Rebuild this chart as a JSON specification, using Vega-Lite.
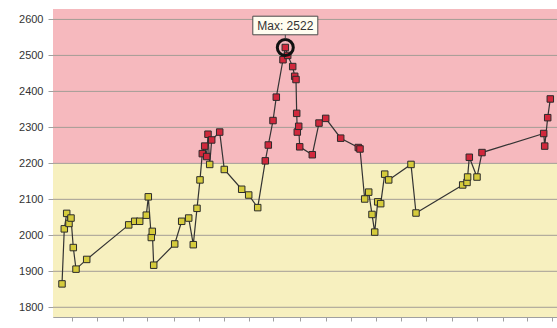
{
  "$schema": "https://vega.github.io/schema/vega-lite/v6.json",
  "width": 510,
  "height": 308,
  "autosize": {"type": "none"},
  "padding": {"left": 53, "top": 9, "right": 0, "bottom": 11},
  "background": "white",
  "config": {
    "view": {"stroke": null},
    "font": "Liberation Sans",
    "axis": {"grid": false, "title": null, "domainColor": "#a0a0a0", "tickColor": "#a0a0a0", "labelColor": "#333333", "labelFontSize": 11, "zindex": 1},
    "axisY": {"labelOverlap": false, "labelBound": false, "format": "d", "tickSize": 5, "labelPadding": 5, "tickCount": 9}
  },
  "datasets": {
    "series": [
      {"t": 62.0, "v": 1865}, {"t": 64.3, "v": 2018}, {"t": 66.7, "v": 2061}, {"t": 69.0, "v": 2033},
      {"t": 71.0, "v": 2048}, {"t": 73.3, "v": 1966}, {"t": 76.0, "v": 1906}, {"t": 86.7, "v": 1933},
      {"t": 128.7, "v": 2029}, {"t": 134.7, "v": 2039}, {"t": 139.7, "v": 2039}, {"t": 146.3, "v": 2056},
      {"t": 148.3, "v": 2107}, {"t": 151.3, "v": 1994}, {"t": 152.3, "v": 2011}, {"t": 153.7, "v": 1917},
      {"t": 174.7, "v": 1976}, {"t": 181.7, "v": 2039}, {"t": 188.7, "v": 2048}, {"t": 193.3, "v": 1974},
      {"t": 197.0, "v": 2075}, {"t": 200.0, "v": 2154}, {"t": 202.3, "v": 2227}, {"t": 204.7, "v": 2248},
      {"t": 206.7, "v": 2219}, {"t": 208.0, "v": 2281}, {"t": 209.7, "v": 2197}, {"t": 211.7, "v": 2265},
      {"t": 219.7, "v": 2287}, {"t": 224.3, "v": 2183}, {"t": 241.7, "v": 2128}, {"t": 248.7, "v": 2112},
      {"t": 257.7, "v": 2077}, {"t": 265.3, "v": 2207}, {"t": 268.3, "v": 2251}, {"t": 273.0, "v": 2319},
      {"t": 276.3, "v": 2384}, {"t": 283.0, "v": 2488}, {"t": 285.3, "v": 2522}, {"t": 287.7, "v": 2500},
      {"t": 292.7, "v": 2469}, {"t": 294.7, "v": 2442}, {"t": 296.0, "v": 2433}, {"t": 296.7, "v": 2339},
      {"t": 297.3, "v": 2287}, {"t": 298.7, "v": 2303}, {"t": 299.7, "v": 2246}, {"t": 312.3, "v": 2224},
      {"t": 319.0, "v": 2312}, {"t": 325.7, "v": 2325}, {"t": 340.7, "v": 2270}, {"t": 358.3, "v": 2244},
      {"t": 360.0, "v": 2240}, {"t": 364.7, "v": 2101}, {"t": 368.7, "v": 2120}, {"t": 372.0, "v": 2058},
      {"t": 374.7, "v": 2009}, {"t": 377.7, "v": 2093}, {"t": 380.7, "v": 2088}, {"t": 384.7, "v": 2170},
      {"t": 388.7, "v": 2154}, {"t": 411.0, "v": 2197}, {"t": 416.0, "v": 2062}, {"t": 462.7, "v": 2140},
      {"t": 467.0, "v": 2147}, {"t": 467.6, "v": 2162}, {"t": 469.3, "v": 2217}, {"t": 477.0, "v": 2162},
      {"t": 482.0, "v": 2230}, {"t": 543.7, "v": 2283}, {"t": 544.7, "v": 2248}, {"t": 547.7, "v": 2327},
      {"t": 550.3, "v": 2379}
    ],
    "bands": [
      {"lo": 1773, "hi": 2200, "zone": "below"},
      {"lo": 2200, "hi": 2629, "zone": "above"}
    ],
    "grid": [{"v": 1800}, {"v": 1900}, {"v": 2000}, {"v": 2100}, {"v": 2200}, {"v": 2300}, {"v": 2400}, {"v": 2500}, {"v": 2600}],
    "peak": [{"t": 285.3, "v": 2522, "label": "Max: 2522"}]
  },
  "resolve": {"scale": {"color": "independent"}, "axis": {"x": "independent"}},
  "layer": [
    {
      "data": {"name": "bands"},
      "mark": {"type": "rect", "opacity": 1},
      "encoding": {
        "y": {"field": "lo", "type": "quantitative", "scale": {"domain": [1773, 2629], "nice": false, "zero": false},
              "axis": {"values": [1800, 1900, 2000, 2100, 2200, 2300, 2400, 2500, 2600], "labelOverlap": false}},
        "y2": {"field": "hi"},
        "color": {"field": "zone", "type": "nominal", "scale": {"domain": ["below", "above"], "range": ["#f7f0bf", "#f6b9be"]}, "legend": null}
      }
    },
    {
      "data": {"name": "grid"},
      "mark": {"type": "rule", "color": "#a39d96", "strokeWidth": 1},
      "encoding": {"y": {"field": "v", "type": "quantitative", "axis": {"values": [1800, 1900, 2000, 2100, 2200, 2300, 2400, 2500, 2600], "labelOverlap": false}}}
    },
    {
      "data": {"name": "series"},
      "mark": {"type": "line", "color": "#333333", "strokeWidth": 1.2},
      "encoding": {
        "x": {"field": "t", "type": "quantitative", "scale": {"domain": [53, 563], "nice": false, "zero": false},
              "axis": {"orient": "bottom", "labels": false, "tickSize": 4,
                       "values": [71.7, 97.3, 122.7, 147.3, 174, 198.7, 224, 249.3, 273.3, 300, 325.7, 350.7, 376, 401, 426.3, 451.7, 476.7, 502.7, 526.7, 552]}},
        "y": {"field": "v", "type": "quantitative", "axis": {"values": [1800, 1900, 2000, 2100, 2200, 2300, 2400, 2500, 2600], "labelOverlap": false}}
      }
    },
    {
      "data": {"name": "series"},
      "mark": {"type": "point", "shape": "square", "filled": true, "size": 42, "opacity": 1, "stroke": "#2b2b2b", "strokeWidth": 1},
      "encoding": {
        "x": {"field": "t", "type": "quantitative", "axis": {"orient": "top", "labels": false, "ticks": false}},
        "y": {"field": "v", "type": "quantitative"},
        "color": {"field": "v", "type": "quantitative", "scale": {"type": "threshold", "domain": [2200], "range": ["#d5cb3b", "#d1283c"]}, "legend": null}
      }
    },
    {
      "data": {"name": "peak"},
      "mark": {"type": "point", "shape": "circle", "filled": false, "size": 256, "opacity": 1, "stroke": "#111111", "strokeWidth": 3},
      "encoding": {
        "x": {"field": "t", "type": "quantitative", "axis": null},
        "y": {"field": "v", "type": "quantitative"}
      }
    },
    {
      "data": {"name": "peak"},
      "mark": {"type": "point", "shape": "M-1,-0.286L1,-0.286L1,0.286L-1,0.286ZM0,0.286L0,0.41", "filled": true, "size": 4225, "opacity": 1, "fill": "#fffdf0", "stroke": "#4a4a4a", "strokeWidth": 1, "yOffset": -22},
      "encoding": {
        "x": {"field": "t", "type": "quantitative", "axis": null},
        "y": {"field": "v", "type": "quantitative"}
      }
    },
    {
      "data": {"name": "peak"},
      "mark": {"type": "text", "fontSize": 12, "color": "#333333", "align": "center", "baseline": "middle", "dy": -22},
      "encoding": {
        "x": {"field": "t", "type": "quantitative", "axis": null},
        "y": {"field": "v", "type": "quantitative"},
        "text": {"field": "label"}
      }
    }
  ]
}
